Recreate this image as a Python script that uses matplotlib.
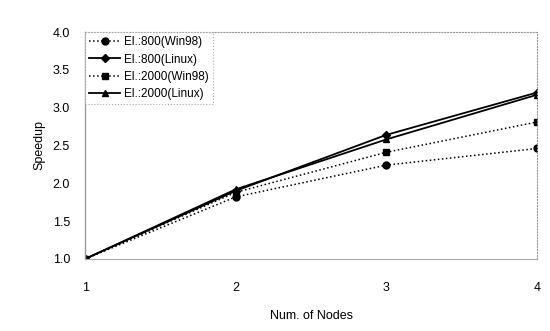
import matplotlib
matplotlib.use("Agg")
import matplotlib.pyplot as plt

plt.rcParams['font.family'] = ['Liberation Sans', 'DejaVu Sans']

nodes = [1, 2, 3, 4]
el800_win98 = [1.0, 1.82, 2.24, 2.46]
el800_linux = [1.0, 1.90, 2.64, 3.20]
el2000_win98 = [1.0, 1.88, 2.41, 2.81]
el2000_linux = [1.0, 1.92, 2.58, 3.17]
labels = ["El.:800(Win98)", "El.:800(Linux)", "El.:2000(Win98)", "El.:2000(Linux)"]
y_ticks = [1.0, 1.5, 2.0, 2.5, 3.0, 3.5, 4.0]

(fig, ax) = plt.subplots(figsize=(5.5, 3.31), dpi=100)
fig.subplots_adjust(left=0.155, right=0.976, top=0.903, bottom=0.218)

ax.plot(nodes, el800_win98, color='black', linestyle=':', lw=1.1, marker='o', ms=5, label=labels[0])
ax.plot(nodes, el800_linux, color='black', linestyle='-', lw=1.3, marker='D', ms=4, label=labels[1])
ax.plot(nodes, el2000_win98, color='black', linestyle=':', lw=1.1, marker='s', ms=5, label=labels[2])
ax.plot(nodes, el2000_linux, color='black', linestyle='-', lw=1.3, marker='^', ms=5, label=labels[3])

ax.set_xlim(1, 4)
ax.set_ylim(1.0, 4.0)
ax.set_xticks(nodes)
ax.set_yticks(y_ticks)
ax.set_yticklabels(["%.1f" % v for v in y_ticks])
ax.tick_params(length=0, labelsize=9, pad=11)
ax.tick_params(axis='x', pad=17)

for s in ['top', 'right', 'bottom']:
    ax.spines[s].set_color('#999999')
    ax.spines[s].set_linestyle(':')
    ax.spines[s].set_linewidth(0.8)
ax.spines['left'].set_color('#999999')
ax.spines['left'].set_linewidth(1.0)
ax.spines['bottom'].set_linestyle('-')
ax.spines['bottom'].set_color('#aaaaaa')

ax.set_xlabel("Num. of Nodes", fontsize=9, labelpad=11)
ax.set_ylabel("Speedup", fontsize=9, labelpad=5)

leg = ax.legend(loc='upper left', fontsize=8.5, frameon=True, fancybox=False,
                handlelength=2.6, handletextpad=0.3, borderpad=0.35,
                labelspacing=0.45, borderaxespad=0.0)
leg.get_frame().set_edgecolor('#999999')
leg.get_frame().set_linestyle(':')
leg.get_frame().set_linewidth(0.8)

plt.savefig("out.png", dpi=100)
